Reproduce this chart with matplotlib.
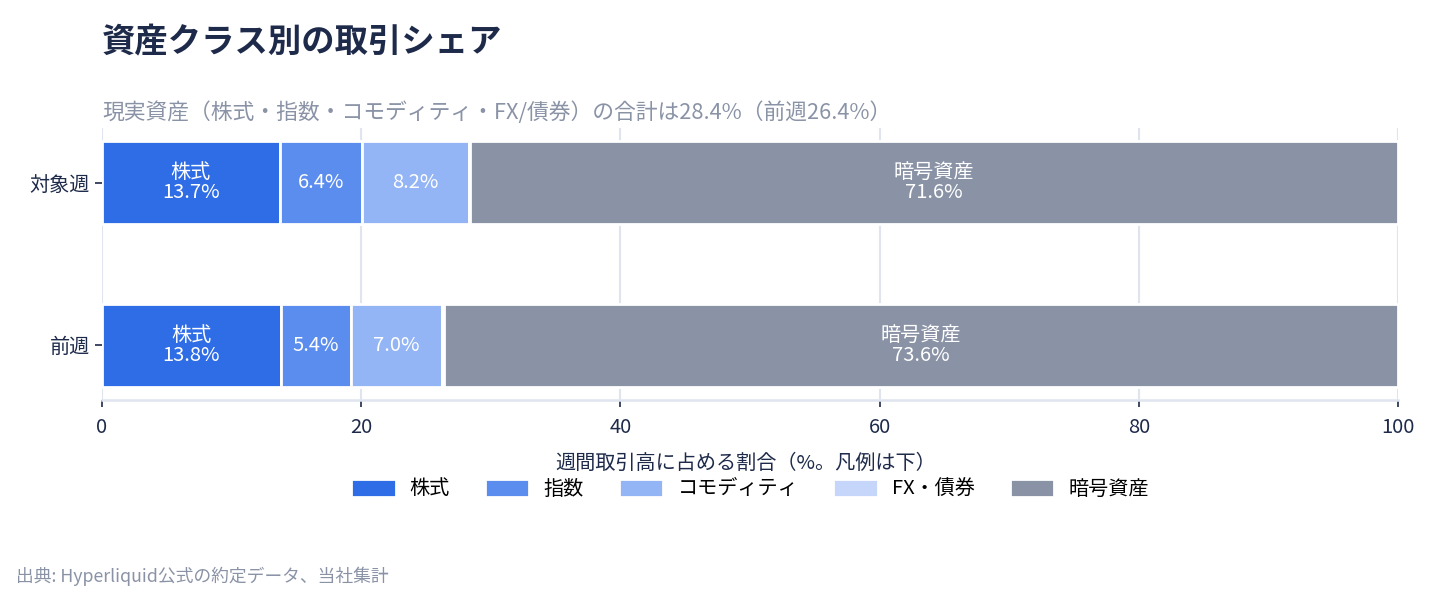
import matplotlib.pyplot as plt
import numpy as np

plt.rcParams['font.family'] = ['Noto Sans CJK JP', 'DejaVu Sans']

# data
weeks = ['対象週', '前週']
asset_classes = ['株式', '指数', 'コモディティ', 'FX・債券', '暗号資産']
shares = {
    '株式': [13.7, 13.8],
    '指数': [6.4, 5.4],
    'コモディティ': [8.2, 7.0],
    'FX・債券': [0.1, 0.2],
    '暗号資産': [71.6, 73.6],
}
colors = ['#2f6de6', '#5b8def', '#93b4f5', '#c5d6fa', '#8a93a6']
named_labels = ['株式', '暗号資産']

navy = '#1e2a4a'
gray = '#8a93a6'
grid_c = '#dfe4ee'

fig = plt.figure(figsize=(14.4, 5.92), dpi=100)
ax = fig.add_axes([102 / 1440, 192 / 592, 1296 / 1440, 272 / 592])

y = np.arange(len(weeks))
left = np.zeros(len(weeks))
for name, c in zip(asset_classes, colors):
    vals = np.array(shares[name])
    ax.barh(y, vals, left=left, height=0.51, color=c, edgecolor='white',
            linewidth=2, label=name, zorder=3)
    for i, v in enumerate(vals):
        if v < 3:
            continue
        txt = f'{name}\n{v:.1f}%' if name in named_labels else f'{v:.1f}%'
        ax.text(left[i] + v / 2, y[i], txt, ha='center', va='center',
                color='white', fontsize=14.5, linespacing=0.9, zorder=4)
    left += vals

ax.set_xlim(0, 100)
ax.set_ylim(1.335, -0.335)
ax.set_yticks(y)
ax.set_yticklabels(weeks)
ax.set_xticks([0, 20, 40, 60, 80, 100])
ax.tick_params(axis='both', colors=navy, labelsize=14.5, length=5, width=1.2)
ax.tick_params(axis='x', pad=7)
ax.grid(axis='x', color=grid_c, linewidth=1.5, zorder=0)
ax.set_axisbelow(True)
for s in ['top', 'right', 'left']:
    ax.spines[s].set_visible(False)
ax.spines['bottom'].set_color(grid_c)
ax.spines['bottom'].set_linewidth(1.8)

fig.text(102 / 1440, 1 - 43 / 592, '資産クラス別の取引シェア', fontsize=24,
         fontweight='bold', color=navy, va='center', ha='left')
fig.text(102 / 1440, 1 - 113 / 592,
         '現実資産（株式・指数・コモディティ・FX/債券）の合計は28.4%（前週26.4%）',
         fontsize=15.7, color=gray, va='center', ha='left')
fig.text(746 / 1440, 1 - 463 / 592, '週間取引高に占める割合（%。凡例は下）',
         fontsize=14.5, color=navy, va='center', ha='center')

fig.legend(loc='center', bbox_to_anchor=(750 / 1440, 1 - 489 / 592), ncol=5,
           frameon=False, fontsize=14.5, handlelength=2.2, handleheight=1.0,
           columnspacing=1.75, handletextpad=0.7)

fig.text(16 / 1440, 1 - 576 / 592, '出典: Hyperliquid公式の約定データ、当社集計',
         fontsize=12.8, color=gray, va='center', ha='left')

fig.savefig('out.png', dpi=100)
